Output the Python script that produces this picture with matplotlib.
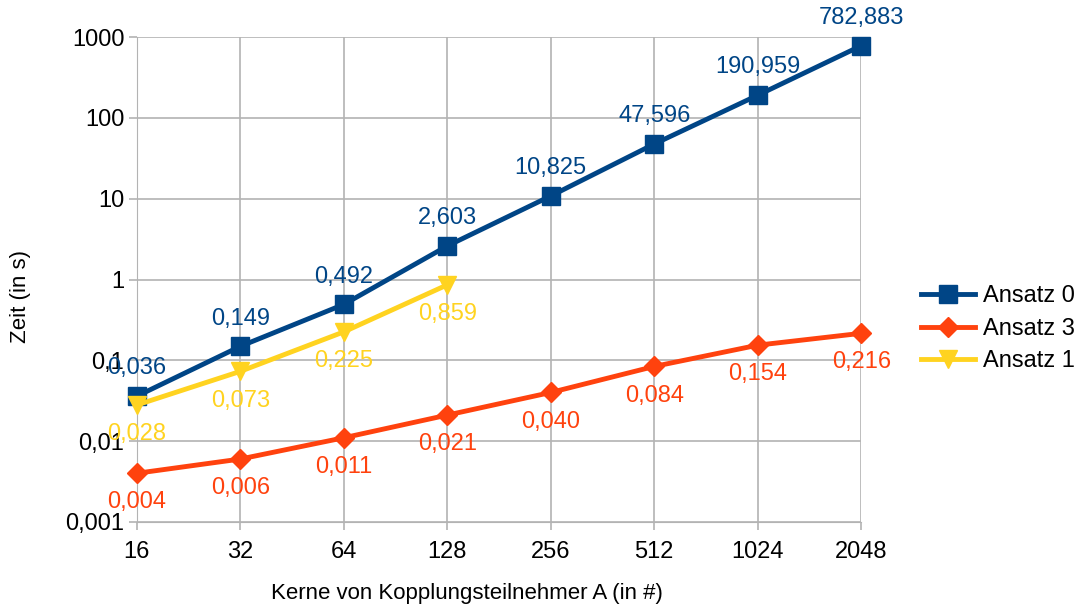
import matplotlib.pyplot as plt

plt.rcParams['font.family'] = ['Liberation Sans', 'DejaVu Sans']

kerne = ['16', '32', '64', '128', '256', '512', '1024', '2048']
ansatz0 = [0.036, 0.149, 0.492, 2.603, 10.825, 47.596, 190.959, 782.883]
ansatz3 = [0.004, 0.006, 0.011, 0.021, 0.040, 0.084, 0.154, 0.216]
ansatz1 = [0.028, 0.073, 0.225, 0.859]
yticks = [0.001, 0.01, 0.1, 1, 10, 100, 1000]
ytick_labels = ['0,001', '0,01', '0,1', '1', '10', '100', '1000']

c0 = '#004586'
c3 = '#ff420e'
c1 = '#ffd320'

fig = plt.figure(figsize=(10.86, 6.09), dpi=100)
ax = fig.add_axes([0.126, 0.143, 0.667, 0.796])

x = list(range(len(kerne)))
l0, = ax.plot(x, ansatz0, color=c0, linewidth=3.5, marker='s', markersize=13,
              label='Ansatz 0', zorder=3, clip_on=False)
l3, = ax.plot(x, ansatz3, color=c3, linewidth=3.5, marker='D', markersize=10,
              label='Ansatz 3', zorder=3, clip_on=False)
l1, = ax.plot(x[:len(ansatz1)], ansatz1, color=c1, linewidth=3.5, marker='v', markersize=13,
              label='Ansatz 1', zorder=3, clip_on=False)

def fmt(v):
    return ('%.3f' % v).replace('.', ',')

for i, v in enumerate(ansatz0):
    ax.annotate(fmt(v), (i, v), xytext=(0, 20), textcoords='offset points',
                ha='center', va='center', color=c0, fontsize=17, annotation_clip=False)
for i, v in enumerate(ansatz3):
    ax.annotate(fmt(v), (i, v), xytext=(0, -21), textcoords='offset points',
                ha='center', va='center', color=c3, fontsize=17, annotation_clip=False)
for i, v in enumerate(ansatz1):
    ax.annotate(fmt(v), (i, v), xytext=(0, -21), textcoords='offset points',
                ha='center', va='center', color=c1, fontsize=17, annotation_clip=False)

ax.set_yscale('log')
ax.set_ylim(0.001, 1000)
ax.set_xlim(0, 7)
ax.set_yticks(yticks)
ax.set_yticklabels(ytick_labels)
ax.minorticks_off()
ax.set_xticks(x)
ax.set_xticklabels(kerne)
ax.tick_params(axis='both', labelsize=17, color='#b3b3b3', length=6, width=1.2)
ax.tick_params(axis='x', pad=8)
ax.tick_params(axis='y', pad=3)
ax.grid(True, color='#b3b3b3', linewidth=1.2)
for s in ax.spines.values():
    s.set_visible(False)
ax.spines['left'].set_visible(True)
ax.spines['left'].set_color('#b3b3b3')
ax.spines['bottom'].set_visible(True)
ax.spines['bottom'].set_color('#b3b3b3')

ax.set_xlabel('Kerne von Kopplungsteilnehmer A (in #)', fontsize=16)
ax.set_ylabel('Zeit (in s)', fontsize=16)
ax.xaxis.set_label_coords(0.456, -0.126)
ax.yaxis.set_label_coords(-0.146, 0.464)

fig.legend(handles=[l0, l3, l1], loc='center left', bbox_to_anchor=(0.848, 0.46),
           frameon=False, fontsize=17, handlelength=2.3, labelspacing=0.45,
           handletextpad=0.35, borderpad=0, borderaxespad=0)

fig.savefig('out.png', dpi=100)
